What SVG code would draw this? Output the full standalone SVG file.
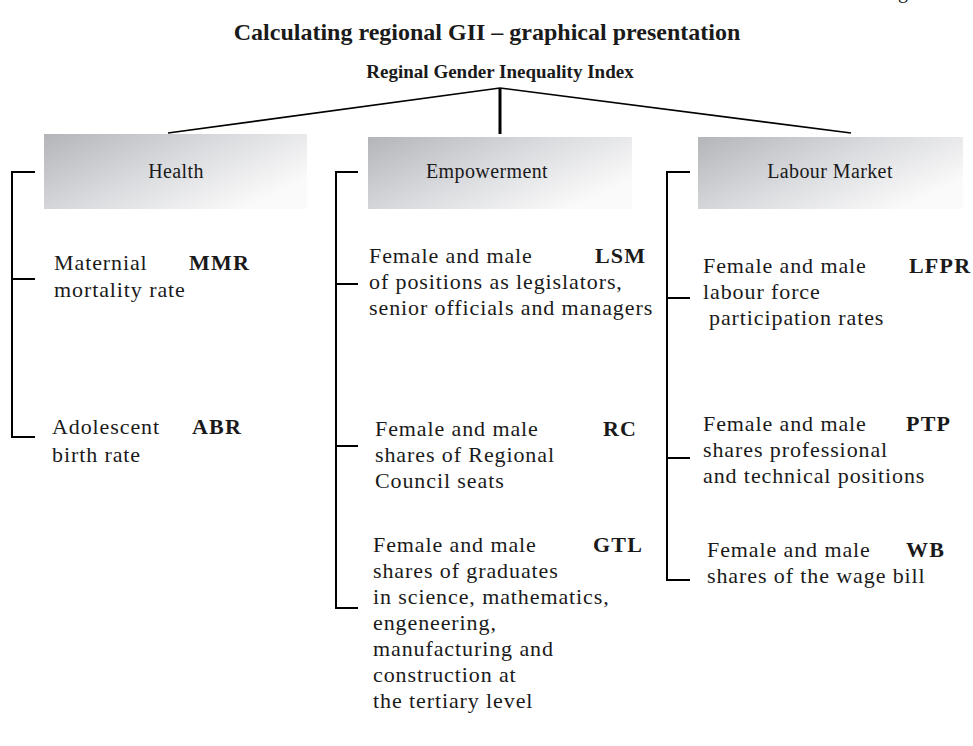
<svg xmlns="http://www.w3.org/2000/svg" width="973" height="746" viewBox="0 0 973 746">
  <defs>
    <linearGradient id="boxFill" x1="0" y1="0" x2="1" y2="0.6">
      <stop offset="0" stop-color="#b4b5b9"/>
      <stop offset="0.55" stop-color="#dcdde0"/>
      <stop offset="1" stop-color="#fafafa"/>
    </linearGradient>
  </defs>
  <style>
    text { font-family: "Liberation Serif", "DejaVu Serif", serif; fill: #1a1a1a; }
    .title { font-size: 24px; font-weight: bold; text-anchor: middle; }
    .root { font-size: 19px; font-weight: bold; text-anchor: middle; }
    .head { font-size: 20px; letter-spacing: 0.4px; text-anchor: middle; }
    .body { font-size: 22px; letter-spacing: 0.9px; }
    .code { font-size: 22px; letter-spacing: 1.2px; font-weight: bold; }
    .link { stroke: #000; stroke-width: 1.6; fill: none; }
    .stem { stroke: #000; stroke-width: 3; fill: none; }
    .brace { stroke: #000; stroke-width: 2; fill: none; }
  </style>
  <rect width="973" height="746" fill="#fff"/>

  <!-- running header fragment at the top edge -->
  <text x="898" y="-2" font-size="20">g</text>

  <text class="title" x="487" y="40">Calculating regional GII – graphical presentation</text>

  <g id="root">
    <text class="root" x="500" y="78">Reginal Gender Inequality Index</text>
  </g>

  <g id="connectors">
    <path class="link" d="M500 88 L168 133"/>
    <path class="link" d="M500 88 L851 133"/>
    <path class="stem" d="M500 88 L500 134"/>
    <!-- Health bracket -->
    <path class="brace" d="M35 172 H12 V437 H35"/>
    <path class="brace" d="M12 279 H35"/>
    <!-- Empowerment bracket -->
    <path class="brace" d="M358 172 H336 V608 H358"/>
    <path class="brace" d="M336 284 H358"/>
    <path class="brace" d="M336 446 H358"/>
    <!-- Labour Market bracket -->
    <path class="brace" d="M690 172 H667 V580 H690"/>
    <path class="brace" d="M667 298 H690"/>
    <path class="brace" d="M667 458 H690"/>
  </g>

  <g id="health">
    <rect x="44" y="134" width="263" height="75" fill="url(#boxFill)"/>
    <text class="head" x="176" y="178">Health</text>
  </g>
  <g id="empowerment">
    <rect x="368" y="137" width="264" height="72" fill="url(#boxFill)"/>
    <text class="head" x="487" y="178">Empowerment</text>
  </g>
  <g id="labour-market">
    <rect x="698" y="137" width="265" height="72" fill="url(#boxFill)"/>
    <text class="head" x="830" y="178">Labour Market</text>
  </g>

  <g id="mmr">
    <text class="body" x="54" y="270">Maternial</text>
    <text class="code" x="189" y="270">MMR</text>
    <text class="body" x="54" y="297">mortality rate</text>
  </g>
  <g id="abr">
    <text class="body" x="52" y="434">Adolescent</text>
    <text class="code" x="192" y="434">ABR</text>
    <text class="body" x="52" y="462">birth rate</text>
  </g>

  <g id="lsm">
    <text class="body" x="369" y="263">Female and male</text>
    <text class="code" x="595" y="263">LSM</text>
    <text class="body" x="369" y="289">of positions as legislators,</text>
    <text class="body" x="369" y="315">senior officials and managers</text>
  </g>
  <g id="rc">
    <text class="body" x="375" y="436">Female and male</text>
    <text class="code" x="603" y="436">RC</text>
    <text class="body" x="375" y="462">shares of Regional</text>
    <text class="body" x="375" y="488">Council seats</text>
  </g>
  <g id="gtl">
    <text class="body" x="373" y="552">Female and male</text>
    <text class="code" x="593" y="552">GTL</text>
    <text class="body" x="373" y="578">shares of graduates</text>
    <text class="body" x="373" y="604">in science, mathematics,</text>
    <text class="body" x="373" y="630">engeneering,</text>
    <text class="body" x="373" y="656">manufacturing and</text>
    <text class="body" x="373" y="682">construction at</text>
    <text class="body" x="373" y="708">the tertiary level</text>
  </g>

  <g id="lfpr">
    <text class="body" x="703" y="273">Female and male</text>
    <text class="code" x="909" y="273" letter-spacing="0.4">LFPR</text>
    <text class="body" x="703" y="299">labour force</text>
    <text class="body" x="709" y="325">participation rates</text>
  </g>
  <g id="ptp">
    <text class="body" x="703" y="431">Female and male</text>
    <text class="code" x="906" y="431">PTP</text>
    <text class="body" x="703" y="457">shares professional</text>
    <text class="body" x="703" y="483">and technical positions</text>
  </g>
  <g id="wb">
    <text class="body" x="707" y="557">Female and male</text>
    <text class="code" x="906" y="557">WB</text>
    <text class="body" x="707" y="583">shares of the wage bill</text>
  </g>
</svg>
